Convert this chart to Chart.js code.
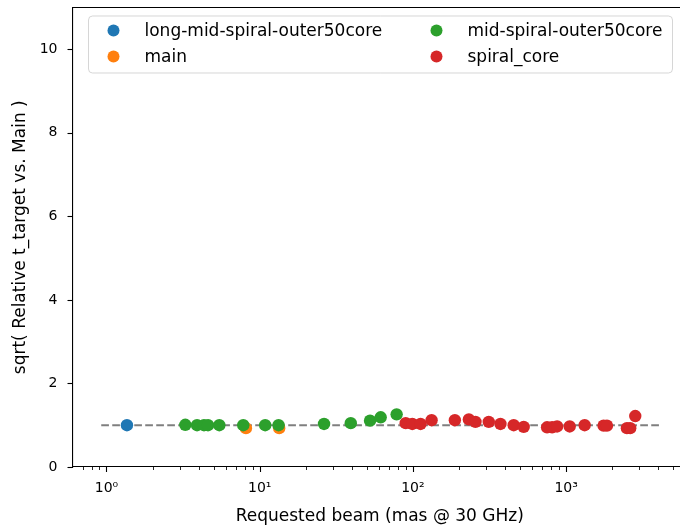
<!DOCTYPE html>
<html>
<head>
<meta charset="utf-8">
<script src="https://cdn.jsdelivr.net/npm/chart.js@4/dist/chart.umd.min.js"></script>
<style>
  html, body { margin: 0; padding: 0; background: #fff; overflow: hidden; }
  #wrap { width: 700px; height: 527px; }
</style>
</head>
<body>
<div id="wrap"><canvas id="chart" width="700" height="527"></canvas></div>
<script>
// series names (legend order: column by column, like matplotlib ncol=2)
let seriesNames = ['long-mid-spiral-outer50core', 'main', 'mid-spiral-outer50core', 'spiral_core'];
let seriesColors = ['#1f77b4', '#ff7f0e', '#2ca02c', '#d62728'];

// values (x = requested beam, y = sqrt relative t_target)
let longMidX = [1.36];
let longMidY = [1.00];

let mainX = [8.13, 13.4];
let mainY = [0.93, 0.93];

let midSpiralX = [3.27, 3.90, 4.33, 4.60, 5.45, 7.81, 10.86, 13.28, 26.3, 39.3, 52.5, 61.6, 78.3];
let midSpiralY = [1.01, 1.00, 1.00, 1.00, 1.00, 1.00, 1.00, 1.00, 1.03, 1.05, 1.11, 1.19, 1.26];

let spiralX = [89.7, 99.1, 112.2, 132.4, 187.8, 231.8, 256, 312.6, 372.6, 454.7, 528.5,
               751, 810, 873, 1055, 1321, 1756, 1847, 2493, 2619, 2826];
let spiralY = [1.05, 1.03, 1.03, 1.12, 1.12, 1.14, 1.08, 1.08, 1.03, 1.00, 0.96,
               0.95, 0.95, 0.97, 0.97, 1.00, 0.99, 0.99, 0.93, 0.93, 1.22];

// reference line at y = 1
let refX = [0.924, 4050];
let refY = [1, 1];

let xMin = 0.611, xMax = 6150;
let yMin = 0, yMax = 11;
let xMajor = [1, 10, 100, 1000];
let yTicks = [0, 2, 4, 6, 8, 10];
let supers = { 0: '\u2070', 1: '\u00b9', 2: '\u00b2', 3: '\u00b3' };

let toPoints = function (xs, ys) {
    return xs.map((x, i) => ({ x: x, y: ys[i] }));
};

let scatterSet = function (idx, xs, ys, order) {
    return {
        type: 'scatter',
        label: seriesNames[idx],
        data: toPoints(xs, ys),
        backgroundColor: seriesColors[idx],
        borderColor: seriesColors[idx],
        borderWidth: 0,
        pointRadius: 6.2,
        pointHoverRadius: 6.2,
        order: order
    };
};

// minor + major tick marks, top spine and the legend box, matplotlib style
let axisDecor = {
    id: 'axisDecor',
    afterDraw(chart) {
        let ctx = chart.ctx;
        let area = chart.chartArea;
        let xs = chart.scales.x;
        let ys = chart.scales.y;
        ctx.save();
        ctx.strokeStyle = '#000';
        // top spine
        ctx.lineWidth = 1.1;
        ctx.beginPath();
        ctx.moveTo(area.left, area.top);
        ctx.lineTo(area.right, area.top);
        ctx.stroke();
        // x ticks
        for (let e = -1; e <= 3; e++) {
            for (let m = 1; m <= 9; m++) {
                let v = m * Math.pow(10, e);
                if (v < xMin || v > xMax) continue;
                let px = Math.round(xs.getPixelForValue(v)) + 0.5;
                let len = m === 1 ? 5 : 3;
                ctx.lineWidth = m === 1 ? 1.1 : 0.85;
                ctx.beginPath();
                ctx.moveTo(px, area.bottom);
                ctx.lineTo(px, area.bottom + len);
                ctx.stroke();
            }
        }
        // y ticks
        ctx.lineWidth = 1.1;
        yTicks.forEach(v => {
            let py = Math.round(ys.getPixelForValue(v)) + 0.5;
            ctx.beginPath();
            ctx.moveTo(area.left, py);
            ctx.lineTo(area.left - 5, py);
            ctx.stroke();
        });

        // legend
        let lx = area.left + 16, ly = area.top + 8.5;
        let lw = 584, lh = 57, r = 4;
        ctx.beginPath();
        ctx.moveTo(lx + r, ly);
        ctx.arcTo(lx + lw, ly, lx + lw, ly + lh, r);
        ctx.arcTo(lx + lw, ly + lh, lx, ly + lh, r);
        ctx.arcTo(lx, ly + lh, lx, ly, r);
        ctx.arcTo(lx, ly, lx + lw, ly, r);
        ctx.closePath();
        ctx.fillStyle = 'rgba(255,255,255,0.8)';
        ctx.fill();
        ctx.strokeStyle = 'rgba(204,204,204,0.8)';
        ctx.lineWidth = 1;
        ctx.stroke();

        ctx.font = '17px "DejaVu Sans"';
        ctx.textBaseline = 'middle';
        ctx.textAlign = 'left';
        let colX = [lx + 25, lx + 348];
        let rowY = [ly + 14.5, ly + 40.5];
        seriesNames.forEach((name, i) => {
            let c = Math.floor(i / 2), rr = i % 2;
            ctx.fillStyle = seriesColors[i];
            ctx.beginPath();
            ctx.arc(colX[c], rowY[rr], 6, 0, Math.PI * 2);
            ctx.fill();
            ctx.fillStyle = '#000';
            ctx.fillText(name, colX[c] + 31, rowY[rr] + 1);
        });
        ctx.restore();
    }
};

let canvas = document.getElementById('chart');
let myChart = new Chart(canvas, {
    data: {
        datasets: [
            {
                type: 'line',
                label: 'ref',
                data: toPoints(refX, refY),
                borderColor: 'rgba(0,0,0,0.5)',
                borderWidth: 2,
                borderDash: [7.7, 3.3],
                pointRadius: 0,
                fill: false,
                order: 5
            },
            scatterSet(0, longMidX, longMidY, 4),
            scatterSet(1, mainX, mainY, 3),
            scatterSet(2, midSpiralX, midSpiralY, 2),
            scatterSet(3, spiralX, spiralY, 1)
        ]
    },
    options: {
        responsive: false,
        animation: false,
        events: [],
        layout: { padding: { top: 7.5, right: 13, left: 0, bottom: 0 } },
        plugins: {
            legend: { display: false },
            tooltip: { enabled: false }
        },
        scales: {
            x: {
                type: 'logarithmic',
                min: xMin,
                max: xMax,
                afterBuildTicks: scale => {
                    scale.ticks = xMajor.map(v => ({ value: v, major: true }));
                },
                afterFit: scale => {
                    scale.height = 60;
                    scale.paddingLeft = 0;
                    scale.paddingRight = 0;
                },
                grid: { display: false, drawTicks: false },
                border: { display: true, color: '#000', width: 1.1 },
                ticks: {
                    autoSkip: false,
                    maxRotation: 0,
                    padding: 13,
                    color: '#000',
                    font: { family: 'DejaVu Sans', size: 14 },
                    callback: v => '10' + supers[Math.round(Math.log10(v))]
                },
                title: {
                    display: true,
                    text: 'Requested beam (mas @ 30 GHz)',
                    color: '#000',
                    font: { family: 'DejaVu Sans', size: 17 },
                    padding: { top: 0, bottom: 0 }
                }
            },
            y: {
                type: 'linear',
                min: yMin,
                max: yMax,
                afterBuildTicks: scale => {
                    scale.ticks = yTicks.map(v => ({ value: v }));
                },
                afterFit: scale => {
                    scale.width = 72.5;
                    scale.paddingTop = 0;
                    scale.paddingBottom = 0;
                },
                grid: { display: false, drawTicks: false },
                border: { display: true, color: '#000', width: 1.1 },
                ticks: {
                    padding: 15,
                    color: '#000',
                    font: { family: 'DejaVu Sans', size: 14 }
                },
                title: {
                    display: true,
                    text: 'sqrt( Relative t_target vs. Main )',
                    color: '#000',
                    font: { family: 'DejaVu Sans', size: 17 },
                    padding: { top: 10, bottom: 0 }
                }
            }
        }
    },
    plugins: [axisDecor]
});
</script>
</body>
</html>
